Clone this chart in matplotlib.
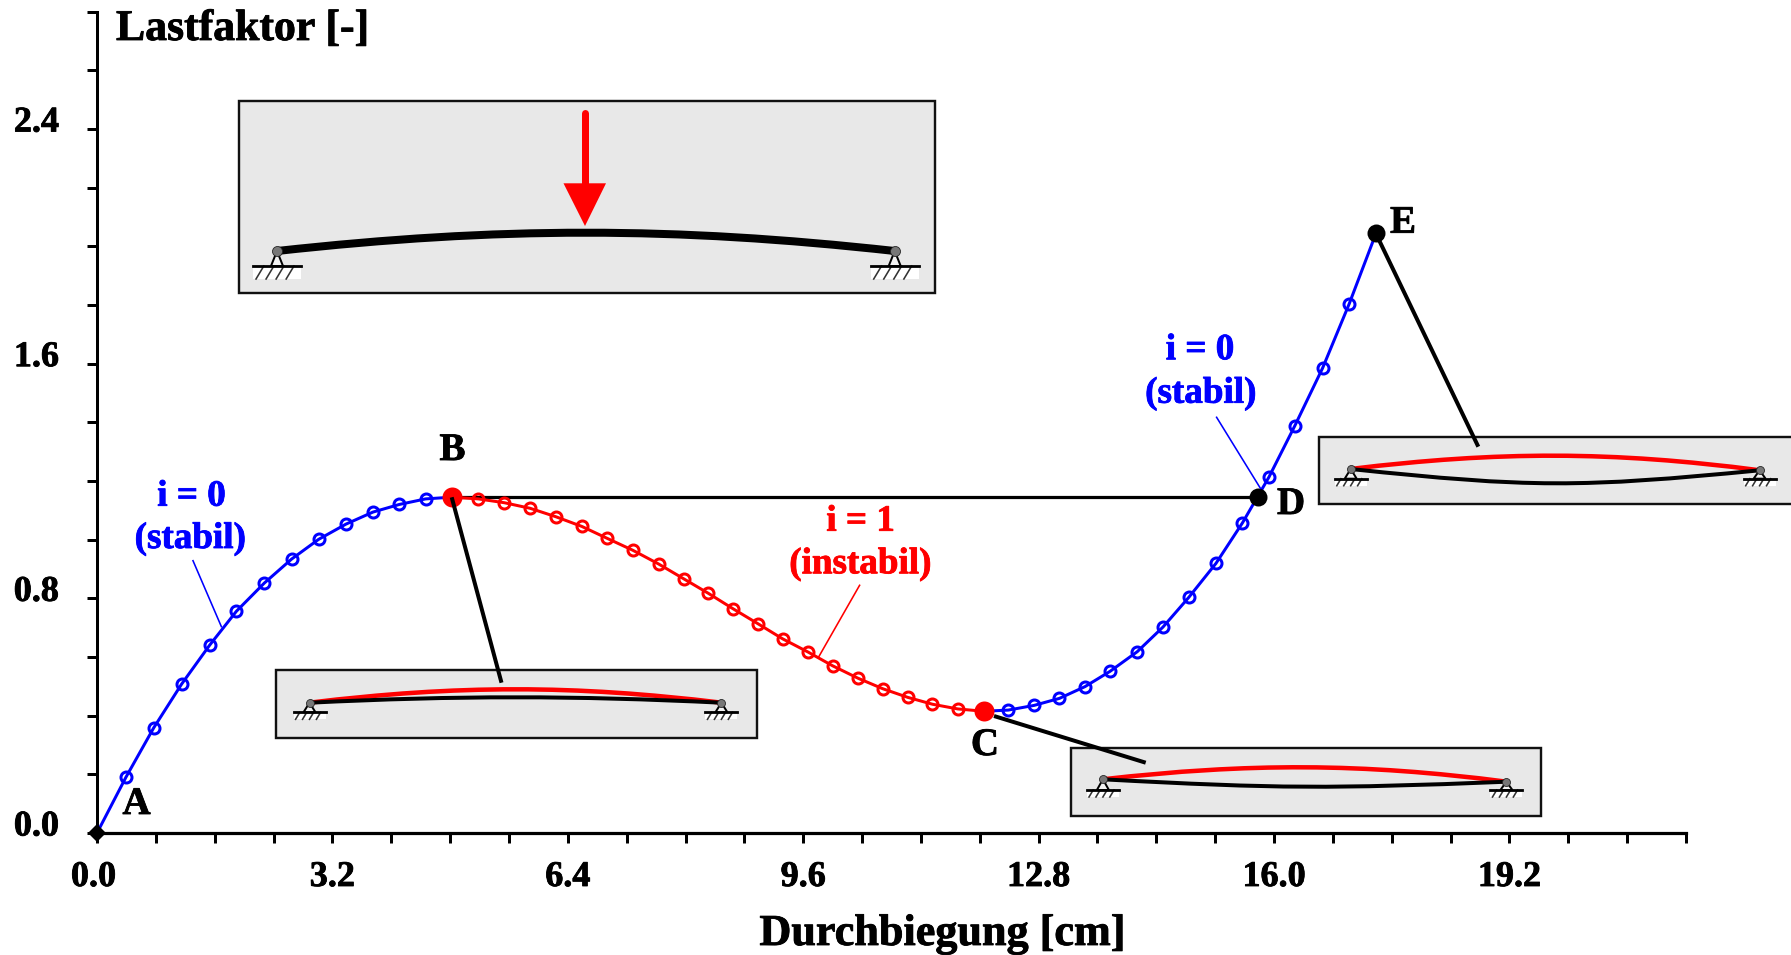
import matplotlib
matplotlib.use("Agg")
import matplotlib.pyplot as plt
import matplotlib.patheffects as pe
from matplotlib.patches import PathPatch, Polygon, Rectangle
from matplotlib.path import Path
from matplotlib.transforms import ScaledTranslation

plt.rcParams['font.family'] = ['Liberation Serif', 'DejaVu Serif']
plt.rcParams['font.weight'] = 'bold'

W, H = 1791, 955
DPI = 100
PX = 72 / DPI  # points per pixel

# values
x_stable_1 = [0.0, 0.393, 0.772, 1.151, 1.530, 1.895, 2.274, 2.646, 3.012, 3.384, 3.750, 4.108, 4.467, 4.826]
y_stable_1 = [0.0, 0.190, 0.359, 0.508, 0.640, 0.756, 0.852, 0.934, 1.001, 1.053, 1.094, 1.120, 1.139, 1.145]

x_unstable = [4.826, 5.184, 5.537, 5.888, 6.240, 6.592, 6.931, 7.283, 7.635, 7.973, 8.311, 8.643, 8.981, 9.32,
              9.665, 10.0, 10.342, 10.68, 11.02, 11.357, 11.70, 12.054]
y_unstable = [1.145, 1.139, 1.126, 1.107, 1.078, 1.045, 1.005, 0.964, 0.917, 0.867, 0.817, 0.765, 0.714, 0.662,
              0.617, 0.570, 0.528, 0.492, 0.4625, 0.439, 0.423, 0.415]

x_stable_2 = [12.054, 12.386, 12.738, 13.083, 13.43, 13.77, 14.14, 14.49, 14.84, 15.21, 15.57, 15.93, 16.28, 16.66, 17.02, 17.39]
y_stable_2 = [0.415, 0.419, 0.435, 0.459, 0.499, 0.551, 0.618, 0.702, 0.803, 0.919, 1.057, 1.213, 1.387, 1.585, 1.803, 2.047]

point_b = (4.826, 1.145)
point_c = (12.054, 0.415)
point_d = (15.78, 1.145)
point_e = (17.39, 2.047)

x_ticks = [0.8 * i for i in range(28)]
y_ticks = [0.2 * i for i in range(15)]
x_labels = {0: '0.0', 4: '3.2', 8: '6.4', 12: '9.6', 16: '12.8', 20: '16.0', 24: '19.2'}
y_labels = {0: '0.0', 4: '0.8', 8: '1.6', 12: '2.4'}


# one schematic beam panel, all in pixel coordinates of the overlay
def beam_panel(ov, box, pin_l, pin_r, red_y, black_y, base_y, base_half, hatch_h, flat=False):
    ov.add_patch(Rectangle((box[0], box[1]), box[2] - box[0], box[3] - box[1],
                           fc='#e8e8e8', ec='#111111', lw=2.4 * PX, zorder=2))
    for pin in (pin_l, pin_r):
        support(ov, pin, base_y, base_half, hatch_h)
    if red_y is not None:
        beam(ov, pin_l, pin_r, red_y, '#ff0000', 4.5 * PX, 0.36)
    if black_y is not None:
        k = 0.44 if flat else 0.36
        beam(ov, pin_l, pin_r, black_y, 'black', 4 * PX, k)


def beam(ov, pin_l, pin_r, apex_y, color, lw, k):
    L = pin_r[0] - pin_l[0]
    y0 = (pin_l[1] + pin_r[1]) / 2
    c = (4 * apex_y - y0) / 3
    verts = [pin_l, (pin_l[0] + k * L, c), (pin_r[0] - k * L, c), pin_r]
    codes = [Path.MOVETO, Path.CURVE4, Path.CURVE4, Path.CURVE4]
    ov.add_patch(PathPatch(Path(verts, codes), fc='none', ec=color, lw=lw, zorder=4, capstyle='butt'))


def support(ov, pin, base_y, base_half, hatch_h):
    x, y = pin
    ov.add_patch(Rectangle((x - base_half, base_y), 2 * base_half, hatch_h,
                           fc='white', ec='none', zorder=3))
    slant = hatch_h * 0.6
    for i in range(4):
        hx = x - base_half + slant + (i + 0.3) * (2 * base_half - slant) / 4
        ov.plot([hx, hx - slant], [base_y, base_y + hatch_h], color='#333333', lw=1.6 * PX, zorder=3)
    ov.add_patch(Polygon([(x, y), (x - 6, base_y), (x + 6, base_y)], closed=True,
                         fc='#f4f4f4', ec='black', lw=2 * PX, zorder=3))
    ov.plot([x - base_half, x + base_half], [base_y, base_y], color='black', lw=2.8 * PX, zorder=3)
    ov.plot([x], [y], 'o', ms=8 * PX, mfc='#777777', mec='#222222', mew=0.8 * PX, zorder=5)


fig = plt.figure(figsize=(W / DPI, H / DPI), dpi=DPI)
ax = fig.add_axes([97 / W, 1 - 833 / H, (1686 - 97) / W, (833 - 11.7) / H])
ax.set_xlim(0, 21.6)
ax.set_ylim(0, 2.8)
ax.spines['top'].set_visible(False)
ax.spines['right'].set_visible(False)
ax.spines['left'].set_linewidth(3 * PX)
ax.spines['bottom'].set_linewidth(3.2 * PX)

ax.set_xticks(x_ticks)
ax.set_xticklabels([x_labels.get(i, '') for i in range(len(x_ticks))])
ax.set_yticks(y_ticks)
ax.set_yticklabels([y_labels.get(i, '') for i in range(len(y_ticks))])
ax.tick_params(axis='x', length=10 * PX, width=3 * PX, pad=18 * PX, labelsize=26)
ax.tick_params(axis='y', length=10 * PX, width=3 * PX, pad=28 * PX, labelsize=26)
shift_y = ScaledTranslation(0, 10 / DPI, fig.dpi_scale_trans)
for lab in ax.get_yticklabels():
    lab.set_transform(lab.get_transform() + shift_y)
shift_x = ScaledTranslation(-3.5 / DPI, 0, fig.dpi_scale_trans)
ax.get_xticklabels()[0].set_transform(ax.get_xticklabels()[0].get_transform() + shift_x)
for lab in ax.get_xticklabels() + ax.get_yticklabels():
    lab.set_path_effects([pe.withStroke(linewidth=0.6, foreground='black')])

mk = dict(ls='none', marker='o', ms=11 * PX, mfc='none', mew=3 * PX, zorder=3, clip_on=False)
ax.plot([point_b[0], point_d[0]], [point_b[1], point_d[1]], color='black', lw=3.2 * PX, zorder=2)
ax.plot(x_stable_1[1:-1], y_stable_1[1:-1], color='#0000ff', **mk)
ax.plot(x_stable_1, y_stable_1, color='#0000ff', lw=3 * PX, zorder=3)
ax.plot(x_unstable[1:-1], y_unstable[1:-1], color='#ff0000', **mk)
ax.plot(x_unstable, y_unstable, color='#ff0000', lw=3 * PX, zorder=3)
ax.plot(x_stable_2[1:-1], y_stable_2[1:-1], color='#0000ff', **mk)
ax.plot(x_stable_2, y_stable_2, color='#0000ff', lw=3 * PX, zorder=3)

ax.plot(*point_b, 'o', color='#ff0000', ms=20 * PX, mew=0, zorder=5)
ax.plot(*point_c, 'o', color='#ff0000', ms=20 * PX, mew=0, zorder=5)
ax.plot(*point_d, 'o', color='black', ms=18 * PX, mew=0, zorder=5)
ax.plot(*point_e, 'o', color='black', ms=18 * PX, mew=0, zorder=5)
ax.plot(0, 0, 'D', color='black', ms=12.5 * PX, mew=0, zorder=6, clip_on=False)

# overlay in image pixels for the panels and the texts
ov = fig.add_axes([0, 0, 1, 1])
ov.set_xlim(0, W)
ov.set_ylim(H, 0)
ov.axis('off')

# panel with the load
beam_panel(ov, (239.4, 100.7, 935, 292.7), (277, 251), (894.7, 251), None, None, 266, 24, 13)
beam(ov, (277, 251), (894.7, 251), 232.7, 'black', 8 * PX, 0.36)
ov.plot([277, 894.7], [251, 251], 'o', ms=10 * PX, mfc='#777777', mec='#222222', mew=0.8 * PX, zorder=5)
ov.plot([585, 585], [113, 185], color='#ff0000', lw=7 * PX, solid_capstyle='round', zorder=5)
ov.add_patch(Polygon([(563.5, 183.3), (606, 183.3), (585, 226)], closed=True, fc='#ff0000', ec='none', zorder=5))

beam_panel(ov, (276, 670, 756.7, 737.7), (309.5, 702.7), (721.4, 702.7), 689.3, 697.3, 712.3, 16, 7)
beam_panel(ov, (1070.5, 748.3, 1541, 815.7), (1102.9, 779.3), (1506.4, 781.7), 767.3, 786.7, 790, 16, 7, flat=True)
beam_panel(ov, (1318.8, 437.3, 1800, 504), (1350.7, 469), (1759.6, 470.3), 455.7, 483.3, 478.7, 16, 7, flat=True)

# black leaders from the points to the panels
ov.plot([451.7, 501.5], [497.3, 682.7], color='black', lw=4 * PX, solid_capstyle='butt', zorder=6)
ov.plot([994, 1145.7], [716, 762.7], color='black', lw=4 * PX, solid_capstyle='butt', zorder=6)
ov.plot([1375.3, 1478.3], [232.3, 446.7], color='black', lw=4 * PX, solid_capstyle='butt', zorder=6)

# thin callouts
ov.plot([193, 221.4], [560.7, 626.7], color='#0000ff', lw=1.6 * PX, zorder=6)
ov.plot([859.6, 818.8], [585.3, 656.7], color='#ff0000', lw=1.6 * PX, zorder=6)
ov.plot([1216.6, 1260.4], [417.3, 488.3], color='#0000ff', lw=1.6 * PX, zorder=6)

stroke = [pe.withStroke(linewidth=0.6, foreground='black')]
tx = dict(va='baseline', zorder=7, path_effects=stroke)
ov.text(116, 40, 'Lastfaktor [-]', fontsize=31.5, ha='left', **tx)
ov.text(942, 945, 'Durchbiegung [cm]', fontsize=31.8, ha='center', **tx)
ov.text(136.5, 814, 'A', fontsize=28, ha='center', **tx)
ov.text(452.5, 460, 'B', fontsize=28, ha='center', **tx)
ov.text(985, 755, 'C', fontsize=28, ha='center', **tx)
ov.text(1291, 514, 'D', fontsize=28, ha='center', **tx)
ov.text(1403, 232.7, 'E', fontsize=28, ha='center', **tx)

tb = dict(va='baseline', ha='center', zorder=7, fontsize=26.7)
ov.text(191.5, 505.7, 'i = 0', color='#0000ff', path_effects=[pe.withStroke(linewidth=0.6, foreground='#0000ff')], **tb)
ov.text(190.5, 548, '(stabil)', color='#0000ff', path_effects=[pe.withStroke(linewidth=0.6, foreground='#0000ff')], **tb)
ov.text(860.6, 530.7, 'i = 1', color='#ff0000', path_effects=[pe.withStroke(linewidth=0.6, foreground='#ff0000')], **tb)
ov.text(860.6, 573.3, '(instabil)', color='#ff0000', path_effects=[pe.withStroke(linewidth=0.6, foreground='#ff0000')], **tb)
ov.text(1200, 359.3, 'i = 0', color='#0000ff', path_effects=[pe.withStroke(linewidth=0.6, foreground='#0000ff')], **tb)
ov.text(1201, 402.7, '(stabil)', color='#0000ff', path_effects=[pe.withStroke(linewidth=0.6, foreground='#0000ff')], **tb)

fig.savefig('out.png', dpi=DPI)
